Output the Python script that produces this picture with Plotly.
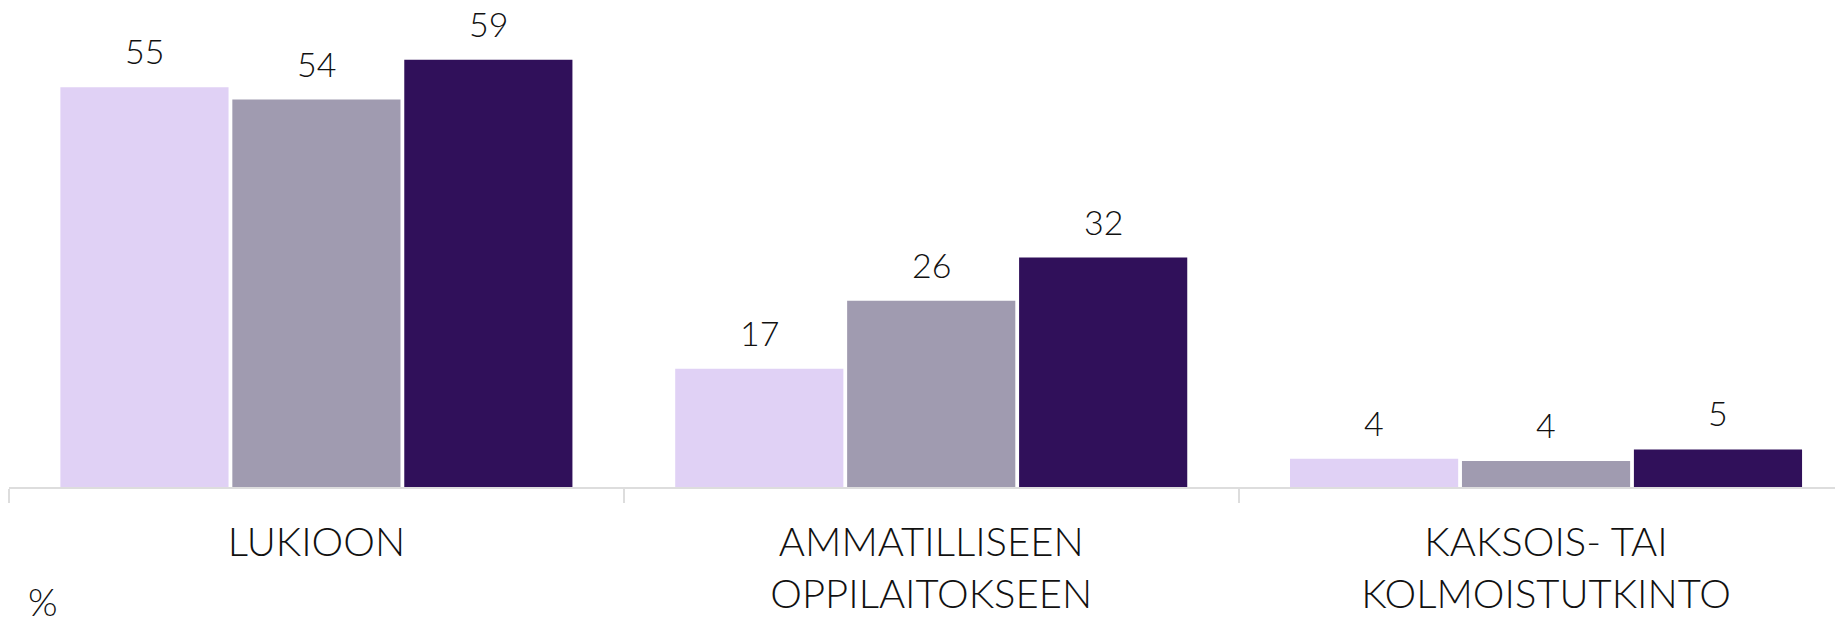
import plotly.graph_objects as go

categories = ["LUKIOON", "AMMATILLISEEN<br>OPPILAITOKSEEN", "KAKSOIS- TAI<br>KOLMOISTUTKINTO"]
series_a = [55.4, 16.4, 3.9]
series_b = [53.7, 25.8, 3.6]
series_c = [59.2, 31.8, 5.2]
labels_a = ["55", "17", "4"]
labels_b = ["54", "26", "4"]
labels_c = ["59", "32", "5"]
unit_label = "%"

colors = ["#E0D1F5", "#A09BB0", "#30105A"]
FONT = "Lato"
BARGAP = 0.161
BARGROUPGAP = 0.022

fig = go.Figure()
all_series = [series_a, series_b, series_c]
all_labels = [labels_a, labels_b, labels_c]
for vals, col in zip(all_series, colors):
    fig.add_trace(go.Bar(x=categories, y=vals, marker=dict(color=col, line=dict(width=0)),
                         hoverinfo="skip", showlegend=False))

n = len(all_series)
slot = (1 - BARGAP) / n
annotations = []
for j, (vals, labs) in enumerate(zip(all_series, all_labels)):
    off = -(1 - BARGAP) / 2 + (j + 0.5) * slot
    for i, (v, t) in enumerate(zip(vals, labs)):
        annotations.append(dict(x=i + off, y=v, xref="x", yref="y", text=t, showarrow=False,
                                yanchor="bottom", xanchor="center", yshift=14,
                                font=dict(family=FONT, size=34, color="#111111", weight=300)))

annotations.append(dict(x=0, y=0, xref="paper", yref="paper", text=unit_label,
                        showarrow=False, xanchor="left", yanchor="bottom", xshift=17, yshift=-139,
                        font=dict(family=FONT, size=38, color="#111111", weight=300)))

fig.update_layout(
    width=1835, height=627,
    margin=dict(l=9, r=0, t=18, b=140),
    paper_bgcolor="white", plot_bgcolor="white",
    barmode="group", bargap=BARGAP, bargroupgap=BARGROUPGAP,
    font=dict(family=FONT, color="#111111", weight=300),
    annotations=annotations,
    xaxis=dict(type="category", range=[-0.5, 2.47], showline=True, linecolor="#DDDDDD", linewidth=2,
               ticks="outside", tickson="boundaries", ticklen=14, tickwidth=2, tickcolor="#DDDDDD",
               tickfont=dict(family=FONT, size=40, color="#111111", weight=300),
               ticklabelstandoff=19, showgrid=False, zeroline=False, fixedrange=True),
    yaxis=dict(range=[0, 65], visible=False, showgrid=False, zeroline=False, fixedrange=True),
)

fig.write_html("out.html", config={"displayModeBar": False, "staticPlot": True},
               post_script="document.body.style.margin='0';document.body.style.overflow='hidden';")
